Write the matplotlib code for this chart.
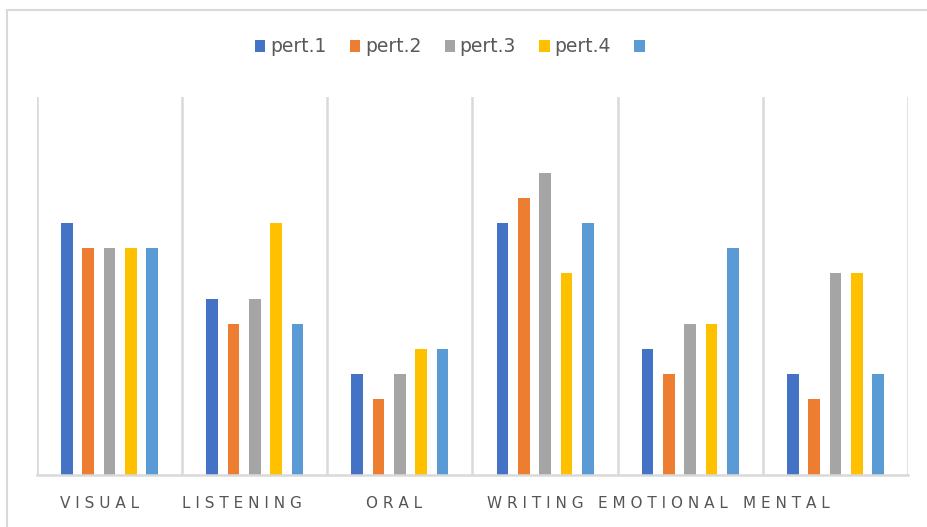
import matplotlib
matplotlib.use("Agg")
import matplotlib.pyplot as plt
from matplotlib.patches import Rectangle
import numpy as np

categories = ["VISUAL", "LISTENING", "ORAL", "WRITING", "EMOTIONAL", "MENTAL"]
series_names = ["pert.1", "pert.2", "pert.3", "pert.4", ""]
pert1 = [10, 7, 4, 10, 5, 4]
pert2 = [9, 6, 3, 11, 4, 3]
pert3 = [9, 7, 4, 12, 6, 8]
pert4 = [9, 10, 5, 8, 6, 8]
pert5 = [9, 6, 5, 10, 9, 4]
series = [pert1, pert2, pert3, pert4, pert5]
colors = ["#4472C4", "#ED7D31", "#A5A5A5", "#FFC000", "#5B9BD5"]

# label x-offsets (layout only)
label_offsets = [-0.07, -0.086, -0.04, -0.066, -0.186, -0.34]

W, H = 928, 527
fig = plt.figure(figsize=(W / 100, H / 100), dpi=100)
ax = fig.add_axes([37 / W, 1 - 475 / H, (908 - 37) / W, (475 - 97) / H])

x = np.arange(len(categories))
pitch = 0.147
bw = 0.08
for i, (vals, c, name) in enumerate(zip(series, colors, series_names)):
    ax.bar(x + (i - 2) * pitch, vals, width=bw, color=c, label=name if name else " ")

ax.set_xlim(-0.5, len(categories) - 0.5)
ax.set_ylim(0, 15)
for b in np.arange(-0.5, len(categories), 1.0):
    ax.axvline(b, color="#D9D9D9", lw=1.8, zorder=0)
for s in ["top", "right", "left"]:
    ax.spines[s].set_visible(False)
ax.spines["bottom"].set_color("#D9D9D9")
ax.spines["bottom"].set_linewidth(1.8)
ax.set_yticks([])
ax.set_xticks([])

for i, (cat, off) in enumerate(zip(categories, label_offsets)):
    ax.text(i + off, -0.056, " ".join(cat), transform=ax.get_xaxis_transform(),
            ha="center", va="top", fontsize=11, color="#555555",
            family="DejaVu Sans")

leg = fig.legend(loc="center left", bbox_to_anchor=(255 / W, 1 - 47 / H), ncol=5,
                 frameon=False, fontsize=13.5, handlelength=0.55, handleheight=0.55,
                 handletextpad=0.25, columnspacing=1.25, borderpad=0, borderaxespad=0)
for t in leg.get_texts():
    t.set_color("#595959")

fig.patches.append(Rectangle((7 / W, -0.01), 1.0, 1 - 10 / H + 0.01, transform=fig.transFigure,
                             fill=False, edgecolor="#D9D9D9", lw=1.5))

fig.savefig("out.png", dpi=100)
